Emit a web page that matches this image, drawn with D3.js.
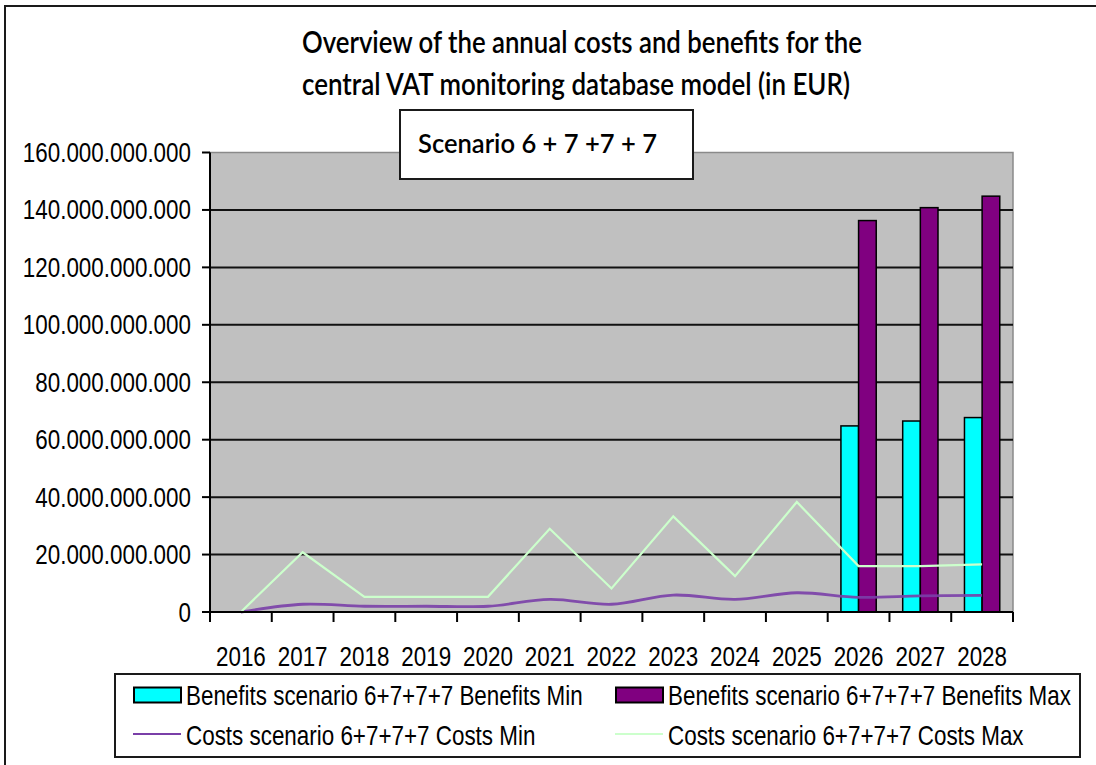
<!DOCTYPE html>
<html>
<head>
<meta charset="utf-8">
<script src="https://cdn.jsdelivr.net/npm/d3@7"></script>
<style>
  html, body { margin: 0; padding: 0; background: #ffffff; }
  svg { display: block; }
  .axis-text { font-family: "Liberation Sans", Arial, sans-serif; fill: #000; }
</style>
</head>
<body>
<svg id="chart" width="1096" height="765"></svg>
<script>
// Years shown on the category axis
const years = ["2016", "2017", "2018", "2019", "2020", "2021", "2022", "2023", "2024", "2025", "2026", "2027", "2028"];

// Benefits (EUR) – only the last three years carry benefits
const benefitsMin = [null, null, null, null, null, null, null, null, null, null, 64.8e9, 66.5e9, 67.7e9];
const benefitsMax = [null, null, null, null, null, null, null, null, null, null, 136.3e9, 140.8e9, 144.8e9];

// Costs (EUR)
const costsMin = [0, 2.7e9, 2.0e9, 2.0e9, 2.0e9, 4.4e9, 2.7e9, 5.9e9, 4.4e9, 6.7e9, 5.1e9, 5.6e9, 5.8e9];
const costsMax = [0, 20.8e9, 5.3e9, 5.3e9, 5.3e9, 29.0e9, 8.2e9, 33.3e9, 12.5e9, 38.3e9, 16.0e9, 16.0e9, 16.6e9];

// Value-axis ticks
const yTicks = [0, 20e9, 40e9, 60e9, 80e9, 100e9, 120e9, 140e9, 160e9];

const titleLines = ["Overview of the annual costs and  benefits for the", "central VAT monitoring database model (in EUR)"];
const scenarioLabel = "Scenario 6 + 7 +7  + 7";
const seriesNames = {
  bMin: "Benefits scenario 6+7+7+7 Benefits Min",
  bMax: "Benefits scenario 6+7+7+7 Benefits Max",
  cMin: "Costs scenario 6+7+7+7 Costs Min",
  cMax: "Costs scenario 6+7+7+7 Costs Max"
};

const colors = { bMin: "#00FFFF", bMax: "#800080", cMin: "#7A3FA8", cMax: "#CCFFCC" };

const svg = d3.select("#chart");

// Arial-style text, narrowed horizontally
const FS = 27.5, SX = 0.815;
function narrowText(g, x, y, text, anchor) {
  return g.append("text")
    .attr("class", "axis-text")
    .attr("transform", `translate(${x},${y}) scale(${SX},1)`)
    .attr("text-anchor", anchor || "start")
    .style("font-size", FS + "px")
    .text(text);
}

// Outer chart frame
svg.append("rect")
  .attr("x", 5).attr("y", 6).attr("width", 1110).attr("height", 790)
  .attr("fill", "none").attr("stroke", "#1a1a1a").attr("stroke-width", 2);

// Plot geometry
const plot = { left: 210, right: 1013, top: 152.5, bottom: 612 };

const x = d3.scaleBand().domain(years).range([plot.left, plot.right]).paddingInner(0).paddingOuter(0);
const x1 = d3.scaleBand().domain(["bMin", "bMax"]).range([0, x.bandwidth()]).paddingInner(0).paddingOuter(0.75);
const y = d3.scaleLinear().domain([0, 160e9]).range([plot.bottom, plot.top]);

// Plot area background
svg.append("rect")
  .attr("x", plot.left).attr("y", plot.top)
  .attr("width", plot.right - plot.left).attr("height", plot.bottom - plot.top)
  .attr("fill", "#C0C0C0").attr("stroke", "#8a8a8a").attr("stroke-width", 1.5);

// Horizontal gridlines
svg.append("g")
  .selectAll("line")
  .data(yTicks.filter(d => d > 0 && d < 160e9))
  .join("line")
  .attr("x1", plot.left).attr("x2", plot.right)
  .attr("y1", d => y(d)).attr("y2", d => y(d))
  .attr("stroke", "#111").attr("stroke-width", 2);

// Bars
const barData = [];
years.forEach((yr, i) => {
  if (benefitsMin[i] != null) barData.push({ year: yr, key: "bMin", value: benefitsMin[i] });
  if (benefitsMax[i] != null) barData.push({ year: yr, key: "bMax", value: benefitsMax[i] });
});
svg.append("g")
  .selectAll("rect")
  .data(barData)
  .join("rect")
  .attr("x", d => x(d.year) + x1(d.key))
  .attr("width", x1.bandwidth())
  .attr("y", d => y(d.value))
  .attr("height", d => y(0) - y(d.value))
  .attr("fill", d => colors[d.key])
  .attr("stroke", "#000").attr("stroke-width", 1.5);

// Cost lines
const cx = (d, i) => x(years[i]) + x.bandwidth() / 2;
const lineMax = d3.line().x(cx).y(d => y(d));
const lineMin = d3.line().x(cx).y(d => y(d)).curve(d3.curveCardinal.tension(0));

svg.append("path")
  .attr("d", lineMin(costsMin))
  .attr("fill", "none").attr("stroke", colors.cMin)
  .attr("stroke-width", 2.8).attr("opacity", 0.9);

svg.append("path")
  .attr("d", lineMax(costsMax))
  .attr("fill", "none").attr("stroke", colors.cMax)
  .attr("stroke-width", 2.2);

// Value axis
const yAxis = svg.append("g");
yAxis.append("line")
  .attr("x1", plot.left).attr("x2", plot.left)
  .attr("y1", plot.top).attr("y2", plot.bottom + 10)
  .attr("stroke", "#000").attr("stroke-width", 2);
yAxis.selectAll("line.tick")
  .data(yTicks)
  .join("line").attr("class", "tick")
  .attr("x1", plot.left - 8).attr("x2", plot.left)
  .attr("y1", d => y(d)).attr("y2", d => y(d))
  .attr("stroke", "#000").attr("stroke-width", 2);
const fmt = d => d3.format(",")(d).replace(/,/g, ".");
yTicks.forEach(t => narrowText(yAxis, 191, y(t) + 9.5, fmt(t), "end"));

// Category axis
const xAxis = svg.append("g");
xAxis.append("line")
  .attr("x1", plot.left - 8).attr("x2", plot.right)
  .attr("y1", plot.bottom).attr("y2", plot.bottom)
  .attr("stroke", "#000").attr("stroke-width", 2);
const boundaries = years.map(yr => x(yr)).concat([plot.right]);
xAxis.selectAll("line.tick")
  .data(boundaries)
  .join("line").attr("class", "tick")
  .attr("x1", d => d).attr("x2", d => d)
  .attr("y1", plot.bottom).attr("y2", plot.bottom + 10)
  .attr("stroke", "#000").attr("stroke-width", 2);
years.forEach(yr => narrowText(xAxis, x(yr) + x.bandwidth() / 2, 666, yr, "middle"));

// Title (condensed, slightly heavy)
const titleFont = "Lato, 'Open Sans', sans-serif";
svg.append("text")
  .attr("x", 582).attr("y", 53).attr("text-anchor", "middle")
  .style("font-family", titleFont).style("font-size", "31px").style("font-weight", 600).attr("fill", "#000")
  .attr("textLength", 560).attr("lengthAdjust", "spacingAndGlyphs")
  .text(titleLines[0]);
svg.append("text")
  .attr("x", 576).attr("y", 95).attr("text-anchor", "middle")
  .style("font-family", titleFont).style("font-size", "31px").style("font-weight", 600).attr("fill", "#000")
  .attr("textLength", 548).attr("lengthAdjust", "spacingAndGlyphs")
  .text(titleLines[1]);

// Scenario box
svg.append("rect")
  .attr("x", 400).attr("y", 110).attr("width", 293).attr("height", 69)
  .attr("fill", "#fff").attr("stroke", "#1a1a1a").attr("stroke-width", 2);
svg.append("text")
  .attr("x", 537.5).attr("y", 153).attr("text-anchor", "middle")
  .style("font-family", titleFont).style("font-size", "27px").style("font-weight", 600).attr("fill", "#000")
  .attr("textLength", 239).attr("lengthAdjust", "spacingAndGlyphs")
  .text(scenarioLabel);

// Legend
const legend = svg.append("g");
legend.append("rect")
  .attr("x", 115).attr("y", 674).attr("width", 965).attr("height", 83)
  .attr("fill", "#fff").attr("stroke", "#1a1a1a").attr("stroke-width", 2);

const legendItems = [
  { key: "bMin", type: "bar", col: 0, row: 0 },
  { key: "bMax", type: "bar", col: 1, row: 0 },
  { key: "cMin", type: "line", col: 0, row: 1 },
  { key: "cMax", type: "line", col: 1, row: 1 }
];
const colX = [134, 616], rowY = [695, 735];
legendItems.forEach(it => {
  const sx = colX[it.col], sy = rowY[it.row];
  if (it.type === "bar") {
    legend.append("rect")
      .attr("x", sx).attr("y", sy - 7.5).attr("width", 47).attr("height", 15)
      .attr("fill", colors[it.key]).attr("stroke", "#000").attr("stroke-width", 2);
  } else {
    legend.append("line")
      .attr("x1", sx - 1).attr("x2", sx + 47)
      .attr("y1", sy - 1).attr("y2", sy - 1)
      .attr("stroke", colors[it.key]).attr("stroke-width", 2);
  }
  narrowText(legend, sx + 52, sy + 9.5, seriesNames[it.key], "start");
});
</script>
</body>
</html>
